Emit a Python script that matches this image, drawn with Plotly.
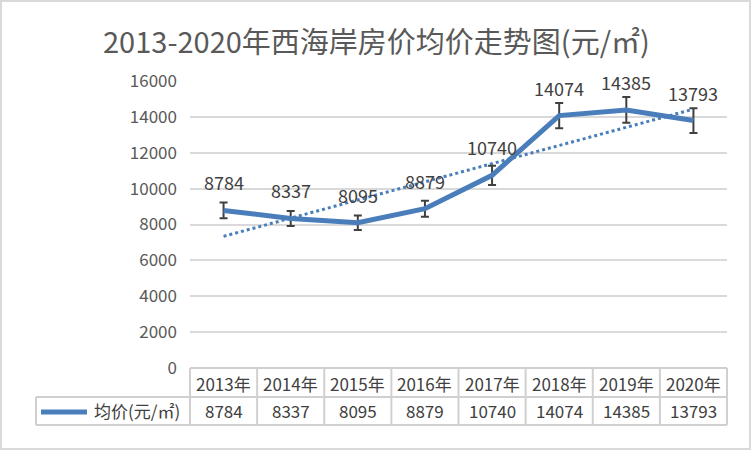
import plotly.graph_objects as go

# ---- data ----
years = ["2013年", "2014年", "2015年", "2016年", "2017年", "2018年", "2019年", "2020年"]
prices = [8784, 8337, 8095, 8879, 10740, 14074, 14385, 13793]
series_name = "均价(元/㎡)"
title_text = "2013-2020年西海岸房价均价走势图(元/㎡)"
trend_years = ["2013年", "2020年"]
trend_values = [7340, 14432]   # linear trendline end points
y_ticks = [0, 2000, 4000, 6000, 8000, 10000, 12000, 14000, 16000]
y_tick_labels = ["0", "2000", "4000", "6000", "8000", "10000", "12000", "14000", "16000"]

# ---- style ----
BLUE = "#4a7ebb"
GRID = "#d9d9d9"
TXT = "#595959"
DARK = "#404040"
FONT = "Noto Sans CJK SC"

W, H = 752, 452
PL, PR, PT, PB = 190, 727, 81, 368   # plot area pixel bounds


def px(x):
    return (x - PL) / (PR - PL)


def py(y):
    return (PB - y) / (PB - PT)


fig = go.Figure()

fig.add_trace(go.Scatter(
    x=trend_years, y=trend_values, mode="lines",
    line=dict(color=BLUE, width=3, dash="dot"),
    hoverinfo="skip", showlegend=False,
))

fig.add_trace(go.Scatter(
    x=years, y=prices, mode="lines",
    line=dict(color=BLUE, width=5),
    error_y=dict(type="percent", value=5, color=DARK, thickness=2, width=4),
    name=series_name, showlegend=False,
))

annotations = []
# data labels
for yr, v in zip(years, prices):
    annotations.append(dict(
        x=yr, y=v, xref="x", yref="y", text=str(v), showarrow=False,
        yshift=28, font=dict(family=FONT, size=18, color=DARK),
    ))

# title
annotations.append(dict(
    x=0.5 * (px(0) + px(W)), y=py(40), xref="paper", yref="paper",
    text=title_text, showarrow=False, xanchor="center", yanchor="middle",
    font=dict(family=FONT, size=29, color=TXT),
))

# data table
n = len(years)
colw = (PR - PL) / n
ROW1_TOP, ROW1_BOT, ROW2_BOT = 368, 397, 425
LEG_L = 36
shapes = []
line_style = dict(color="#d0d0d0", width=2)
# horizontal lines
shapes.append(dict(type="line", xref="paper", yref="paper",
                   x0=px(PL), x1=px(PR), y0=py(ROW1_TOP), y1=py(ROW1_TOP), line=line_style))
for yy in (ROW1_BOT, ROW2_BOT):
    shapes.append(dict(type="line", xref="paper", yref="paper",
                       x0=px(LEG_L), x1=px(PR), y0=py(yy), y1=py(yy), line=line_style))
# vertical lines
for i in range(n + 1):
    xx = PL + i * colw
    shapes.append(dict(type="line", xref="paper", yref="paper",
                       x0=px(xx), x1=px(xx), y0=py(ROW1_TOP), y1=py(ROW2_BOT), line=line_style))
shapes.append(dict(type="line", xref="paper", yref="paper",
                   x0=px(LEG_L), x1=px(LEG_L), y0=py(ROW1_BOT), y1=py(ROW2_BOT), line=line_style))
# legend key
shapes.append(dict(type="line", xref="paper", yref="paper",
                   x0=px(41), x1=px(87), y0=py(412), y1=py(412),
                   line=dict(color=BLUE, width=5)))
# outer chart border
shapes.append(dict(type="rect", xref="paper", yref="paper",
                   x0=px(1), x1=px(750), y0=py(1), y1=py(449),
                   line=dict(color=GRID, width=2)))

for i, (yr, v) in enumerate(zip(years, prices)):
    cx = px(PL + (i + 0.5) * colw)
    annotations.append(dict(x=cx, y=py(383), xref="paper", yref="paper", text=yr,
                            showarrow=False, xanchor="center", yanchor="middle",
                            font=dict(family=FONT, size=17, color=DARK)))
    annotations.append(dict(x=cx, y=py(411), xref="paper", yref="paper", text=str(v),
                            showarrow=False, xanchor="center", yanchor="middle",
                            font=dict(family=FONT, size=17, color=DARK)))
annotations.append(dict(x=px(92), y=py(411), xref="paper", yref="paper", text=series_name,
                        showarrow=False, xanchor="left", yanchor="middle",
                        font=dict(family=FONT, size=17, color=DARK)))

fig.update_layout(
    width=W, height=H,
    margin=dict(l=PL, r=W - PR, t=PT, b=H - PB, pad=0),
    paper_bgcolor="white", plot_bgcolor="white",
    showlegend=False,
    xaxis=dict(type="category", categoryorder="array", categoryarray=years,
               range=[-0.5, n - 0.5], showticklabels=False, showgrid=False,
               zeroline=False, showline=False, ticks=""),
    yaxis=dict(range=[0, 16000], tickvals=y_ticks, ticktext=y_tick_labels,
               showgrid=True, gridcolor=GRID,
               gridwidth=1.5, zeroline=False, showline=False, ticks="",
               ticklabelstandoff=12,
               tickfont=dict(family=FONT, size=17, color=TXT)),
    shapes=shapes, annotations=annotations,
)

fig.write_html("out.html")
